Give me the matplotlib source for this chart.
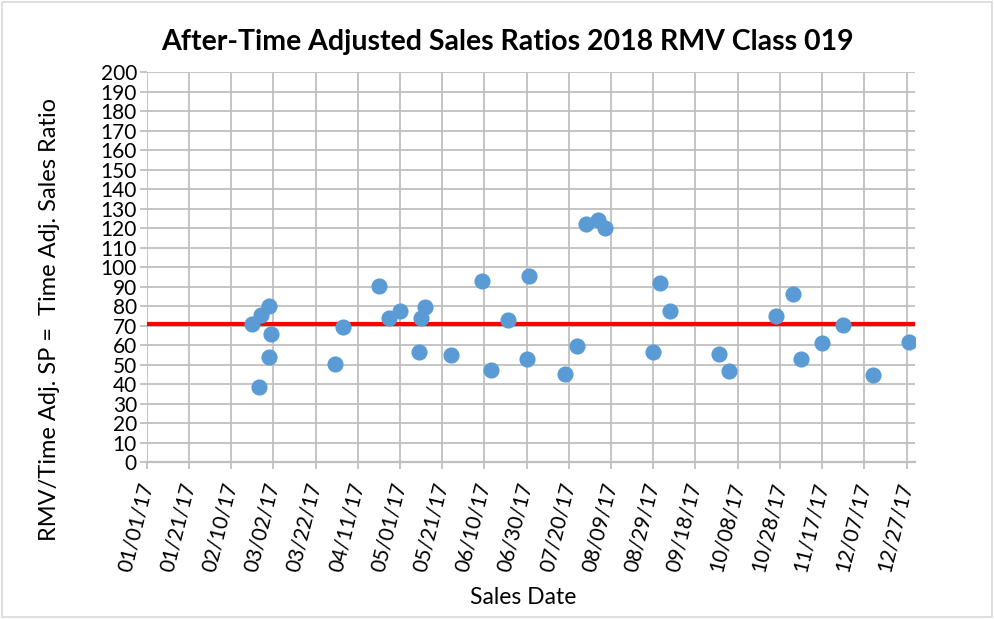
import numpy as np
import pandas as pd
import matplotlib
matplotlib.use("Agg")
import matplotlib.pyplot as plt
import matplotlib.dates as mdates
from matplotlib.patches import Rectangle

# sale dates and time-adjusted sales ratios
sale_dates = ["2017-02-20", "2017-02-24", "2017-02-28", "2017-03-01", "2017-02-28",
              "2017-02-23", "2017-03-31", "2017-04-04", "2017-04-21", "2017-04-26",
              "2017-05-01", "2017-05-10", "2017-05-11", "2017-05-13", "2017-05-25",
              "2017-06-09", "2017-06-13", "2017-06-21", "2017-07-01", "2017-06-30",
              "2017-07-18", "2017-07-24", "2017-07-28", "2017-08-03", "2017-08-06",
              "2017-09-01", "2017-09-06", "2017-08-29", "2017-09-29", "2017-10-04",
              "2017-10-26", "2017-11-03", "2017-11-07", "2017-11-17", "2017-11-27",
              "2017-12-11", "2017-12-28"]
ratios = [70.8, 75.5, 80.2, 66.0, 53.8,
          38.8, 50.6, 69.2, 90.4, 73.8,
          77.6, 56.6, 74.2, 79.8, 55.2,
          92.8, 47.2, 72.8, 95.4, 53.1,
          45.1, 59.5, 122.0, 124.2, 120.0,
          91.8, 77.4, 56.7, 55.5, 47.0,
          75.2, 86.2, 52.8, 61.2, 70.3,
          44.6, 61.5]
median_ratio = 70.8

x_start = "2017-01-01"
x_end = "2017-12-31"
tick_step_days = 20

dates = pd.to_datetime(sale_dates)

plt.rcParams['font.family'] = ['Lato', 'DejaVu Sans']

fig = plt.figure(figsize=(9.94, 6.19), dpi=100)
ax = fig.add_axes([0.1476, 0.2532, 0.9205 - 0.1476, 0.8832 - 0.2532])

ax.axhline(median_ratio, color="#FF0000", linewidth=3.0, zorder=3)
ax.scatter(dates, ratios, s=135, color="#5B9BD5", zorder=4, linewidths=0)

ax.set_xlim(pd.Timestamp(x_start), pd.Timestamp(x_end))
ax.set_ylim(0, 200)
ax.set_yticks(np.arange(0, 201, 10))
ticks = pd.date_range(x_start, x_end, freq=f"{tick_step_days}D")
ax.set_xticks(ticks)
ax.xaxis.set_major_formatter(mdates.DateFormatter("%m/%d/%y"))

ax.grid(True, color="#BFBFBF", linewidth=1.3, zorder=0)
ax.set_axisbelow(True)
for s in ["top", "right", "left"]:
    ax.spines[s].set_visible(False)
ax.spines["bottom"].set_color("#BFBFBF")
ax.spines["bottom"].set_linewidth(1.6)
ax.tick_params(axis="both", colors="#BFBFBF", length=5, width=1.3, labelcolor="black")
ax.tick_params(axis="y", pad=2, labelsize=15)
ax.tick_params(axis="x", pad=10, labelsize=15)
for lbl in ax.get_xticklabels():
    lbl.set_rotation(76)
    lbl.set_rotation_mode("anchor")
    lbl.set_ha("right")
    lbl.set_va("center")

ax.set_title("After-Time Adjusted Sales Ratios 2018 RMV Class 019", fontsize=20.5,
             fontweight="bold", x=0.469, pad=16)
ax.set_xlabel("Sales Date", fontsize=16.5)
ax.xaxis.set_label_coords(0.49, -0.32)
ax.set_ylabel("RMV/Time Adj. SP =  Time Adj. Sales Ratio", fontsize=17)
ax.yaxis.set_label_coords(-0.113, 0.365)

fig.patches.append(Rectangle((0.002, 0.003), 0.996, 0.994, transform=fig.transFigure,
                             fill=False, edgecolor="#D9D9D9", linewidth=1.2))

fig.savefig("out.png", dpi=100)
